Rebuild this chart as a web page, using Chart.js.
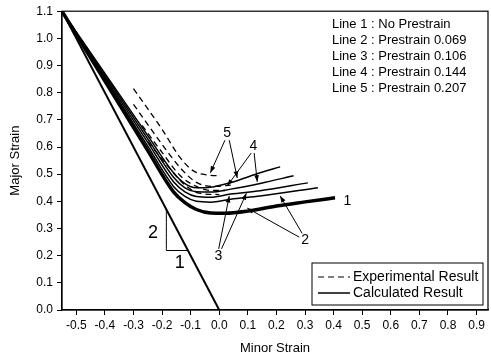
<!DOCTYPE html>
<html lang="en">
<head>
  <meta charset="UTF-8">
  <title>Major vs Minor Strain</title>
  <script src="https://cdn.jsdelivr.net/npm/chart.js"></script>
  <style>
    html, body { margin: 0; padding: 0; background: #fff; }
    #wrap { width: 491px; height: 360px; }
  </style>
</head>
<body>
<div id="wrap"><canvas id="fld"></canvas></div>
<script>
// calculated curves (solid), [minor, major]
const calc1 = [[-0.55, 1.1], [-0.4, 0.843], [-0.25, 0.587], [-0.16, 0.435], [-0.12, 0.395], [-0.08, 0.37], [-0.03, 0.357], [0.02, 0.356], [0.1, 0.364], [0.2, 0.383], [0.3, 0.398], [0.405, 0.413]];
const calc2 = [[-0.55, 1.1], [-0.4, 0.852], [-0.25, 0.603], [-0.16, 0.455], [-0.12, 0.418], [-0.08, 0.4], [-0.03, 0.397], [0.04, 0.408], [0.143, 0.42], [0.345, 0.45]];
const calc3 = [[-0.55, 1.1], [-0.4, 0.858], [-0.25, 0.617], [-0.16, 0.472], [-0.12, 0.435], [-0.08, 0.418], [-0.03, 0.415], [0.04, 0.427], [0.143, 0.439], [0.31, 0.468]];
const calc4 = [[-0.55, 1.1], [-0.4, 0.865], [-0.25, 0.63], [-0.16, 0.489], [-0.12, 0.45], [-0.08, 0.435], [-0.03, 0.434], [0.04, 0.445], [0.143, 0.466], [0.26, 0.494]];
const calc5 = [[-0.55, 1.1], [-0.4, 0.871], [-0.25, 0.642], [-0.16, 0.505], [-0.12, 0.465], [-0.08, 0.45], [-0.03, 0.452], [0.04, 0.469], [0.143, 0.505], [0.213, 0.527]];

// experimental curves (dashed)
const exp5 = [[-0.30, 0.815], [-0.2, 0.665], [-0.136, 0.56], [-0.09, 0.512], [-0.04, 0.497], [0.005, 0.494]];
const exp4 = [[-0.30, 0.757], [-0.2, 0.61], [-0.136, 0.523], [-0.08, 0.47], [-0.02, 0.455], [0.04, 0.46]];
const exp3 = [[-0.27, 0.68], [-0.2, 0.58], [-0.136, 0.494], [-0.08, 0.455], [-0.03, 0.44], [0.02, 0.44]];
const exp2 = [[-0.25, 0.62], [-0.18, 0.53], [-0.12, 0.46], [-0.07, 0.43], [0.0, 0.425]];

// plane-strain reference line, slope 2:1, and its slope triangle
const slopeLine = [[-0.55, 1.1], [0.0, 0.0]];
const slopeTri = [[-0.185, 0.37], [-0.185, 0.219], [-0.112, 0.219]];

const xTicks = [-0.5, -0.4, -0.3, -0.2, -0.1, 0.0, 0.1, 0.2, 0.3, 0.4, 0.5, 0.6, 0.7, 0.8, 0.9];

const seriesNotes = [
  'Line 1 : No Prestrain',
  'Line 2 : Prestrain 0.069',
  'Line 3 : Prestrain 0.106',
  'Line 4 : Prestrain 0.144',
  'Line 5 : Prestrain 0.207'
];

// curve numbers and their pointer arrows, in data units
const curveTags = [
  { t: '5', x: 0.028, y: 0.65 },
  { t: '4', x: 0.119, y: 0.603 },
  { t: '3', x: -0.003, y: 0.20 },
  { t: '2', x: 0.30, y: 0.256 },
  { t: '1', x: 0.448, y: 0.402 }
];
const arrows = [
  [0.02, 0.625, -0.031, 0.505],
  [0.035, 0.625, 0.063, 0.486],
  [0.112, 0.578, 0.028, 0.457],
  [0.122, 0.578, 0.133, 0.472],
  [-0.002, 0.225, 0.035, 0.42],
  [0.008, 0.225, 0.095, 0.43],
  [0.29, 0.282, 0.213, 0.42],
  [0.28, 0.268, 0.098, 0.375]
];
const triTags = [
  { t: '2', x: -0.232, y: 0.285 },
  { t: '1', x: -0.138, y: 0.172 }
];

const FONT = 'Arial, "Liberation Sans", sans-serif';
const pts = a => a.map(p => ({ x: p[0], y: p[1] }));

function solid(data, w) {
  return { data: pts(data), showLine: true, borderColor: '#000', borderWidth: w,
           pointRadius: 0, cubicInterpolationMode: 'monotone' };
}
function dashed(data) {
  return { data: pts(data), showLine: true, borderColor: '#000', borderWidth: 1.3,
           borderDash: [6, 4], pointRadius: 0, cubicInterpolationMode: 'monotone' };
}

// frame, notes, legend box and arrows
const decor = {
  id: 'decor',
  afterDatasetsDraw(chart) {
    const { ctx, chartArea: ca, scales: { x, y } } = chart;
    ctx.save();
    ctx.strokeStyle = '#000';
    ctx.fillStyle = '#000';
    ctx.lineWidth = 1.2;
    ctx.strokeRect(ca.left, ca.top, ca.right - ca.left, ca.bottom - ca.top);

    // arrows
    ctx.lineWidth = 1;
    arrows.forEach(a => {
      const x0 = x.getPixelForValue(a[0]), y0 = y.getPixelForValue(a[1]);
      const x1 = x.getPixelForValue(a[2]), y1 = y.getPixelForValue(a[3]);
      ctx.beginPath(); ctx.moveTo(x0, y0); ctx.lineTo(x1, y1); ctx.stroke();
      const ang = Math.atan2(y1 - y0, x1 - x0), L = 7, W = 0.35;
      ctx.beginPath();
      ctx.moveTo(x1, y1);
      ctx.lineTo(x1 - L * Math.cos(ang - W), y1 - L * Math.sin(ang - W));
      ctx.lineTo(x1 - L * Math.cos(ang + W), y1 - L * Math.sin(ang + W));
      ctx.closePath(); ctx.fill();
    });

    ctx.textAlign = 'center';
    ctx.textBaseline = 'middle';
    ctx.font = '14px ' + FONT;
    curveTags.forEach(c => ctx.fillText(c.t, x.getPixelForValue(c.x), y.getPixelForValue(c.y)));
    ctx.font = '18px ' + FONT;
    triTags.forEach(c => ctx.fillText(c.t, x.getPixelForValue(c.x), y.getPixelForValue(c.y)));

    // notes top right
    ctx.textAlign = 'left';
    ctx.font = '13px ' + FONT;
    seriesNotes.forEach((s, i) => ctx.fillText(s, ca.left + 270, ca.top + 13 + i * 16));

    // legend box bottom right
    const bx = ca.right - 176, by = ca.bottom - 47, bw = 171, bh = 42;
    ctx.fillStyle = '#fff';
    ctx.fillRect(bx, by, bw, bh);
    ctx.lineWidth = 1;
    ctx.strokeRect(bx, by, bw, bh);
    ctx.fillStyle = '#000';
    ctx.beginPath();
    ctx.setLineDash([6, 4]);
    ctx.moveTo(bx + 6, by + 14); ctx.lineTo(bx + 38, by + 14); ctx.stroke();
    ctx.setLineDash([]);
    ctx.lineWidth = 1.5;
    ctx.beginPath();
    ctx.moveTo(bx + 6, by + 30); ctx.lineTo(bx + 38, by + 30); ctx.stroke();
    ctx.font = '14px ' + FONT;
    ctx.fillText('Experimental Result', bx + 41, by + 14);
    ctx.fillText('Calculated Result', bx + 41, by + 30);
    ctx.restore();
  }
};

new Chart(document.getElementById('fld'), {
  type: 'scatter',
  data: {
    datasets: [
      solid(slopeLine, 2),
      solid(slopeTri, 1),
      solid(calc5, 1.5),
      solid(calc4, 1.5),
      solid(calc3, 1.5),
      solid(calc2, 1.5),
      solid(calc1, 3.5),
      dashed(exp5),
      dashed(exp4),
      dashed(exp3),
      dashed(exp2)
    ]
  },
  options: {
    responsive: true,
    maintainAspectRatio: false,
    animation: false,
    layout: { padding: { top: 9, right: 3, left: 0, bottom: 0 } },
    plugins: { legend: { display: false }, tooltip: { enabled: false } },
    scales: {
      x: {
        type: 'linear', min: -0.55, max: 0.94,
        afterFit: s => { s.height = 50; },
        afterBuildTicks: s => { s.ticks = xTicks.map(v => ({ value: v })); },
        grid: { drawOnChartArea: false, drawTicks: true, tickLength: 5, color: '#000' },
        border: { color: '#000', width: 1.2 },
        ticks: { color: '#000', padding: 3, maxRotation: 0, autoSkip: false,
                 font: { family: FONT, size: 12 }, callback: v => v.toFixed(1) },
        title: { display: true, text: 'Minor Strain', color: '#000',
                 font: { family: FONT, size: 13 }, padding: { top: 4, bottom: 4 } }
      },
      y: {
        type: 'linear', min: 0, max: 1.1,
        afterFit: s => { s.width = 62; },
        grid: { drawOnChartArea: false, drawTicks: true, tickLength: 5, color: '#000' },
        border: { color: '#000', width: 1.2 },
        ticks: { color: '#000', padding: 4, stepSize: 0.1, autoSkip: false,
                 font: { family: FONT, size: 12 }, callback: v => v.toFixed(1) },
        title: { display: true, text: 'Major Strain', color: '#000',
                 font: { family: FONT, size: 13 }, padding: { top: 8, bottom: 4 } }
      }
    }
  },
  plugins: [decor]
});
</script>
</body>
</html>
